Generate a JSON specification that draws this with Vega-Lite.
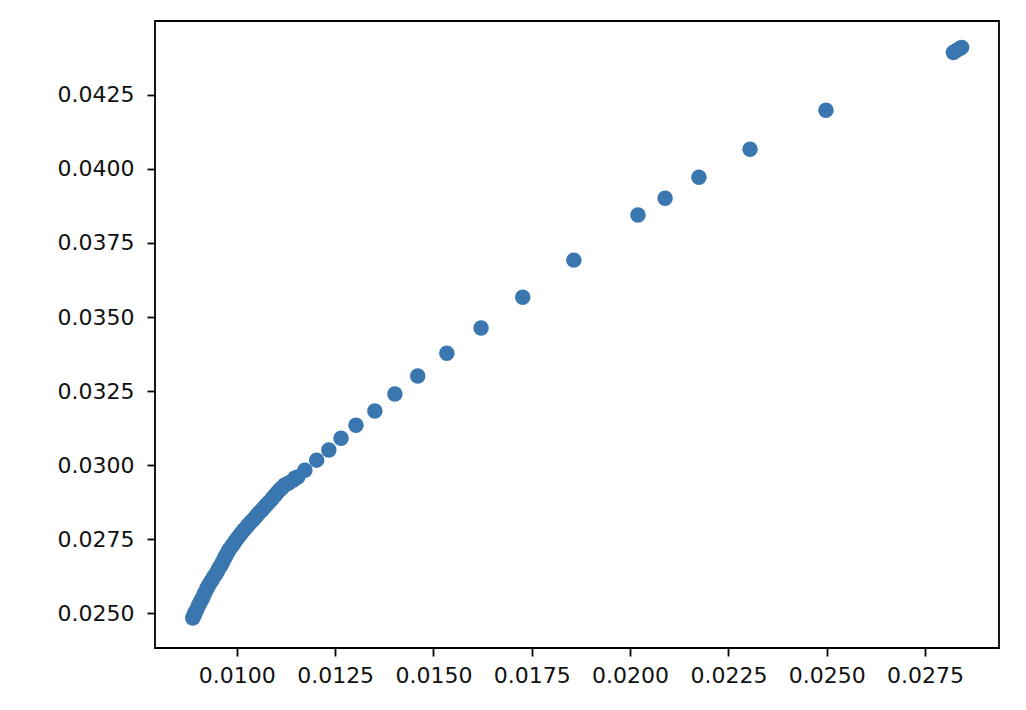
{
  "$schema": "https://vega.github.io/schema/vega-lite/v6.json",
  "width": 844,
  "height": 627,
  "autosize": "none",
  "padding": {"left": 155, "top": 21, "right": 27, "bottom": 62},
  "background": "white",
  "config": {
    "view": {"stroke": "black", "strokeWidth": 1.8},
    "axis": {
      "grid": false,
      "domain": false,
      "tickColor": "black",
      "tickWidth": 1.8,
      "tickSize": 8,
      "labelFont": "DejaVu Sans",
      "labelFontSize": 22,
      "labelColor": "#111111",
      "labelFlush": false,
      "labelOverlap": false,
      "title": null
    }
  },
  "data": {
    "values": [
      {"x": 0.02498, "y": 0.04198},
      {"x": 0.02305, "y": 0.04066},
      {"x": 0.02175, "y": 0.03972},
      {"x": 0.02089, "y": 0.03901},
      {"x": 0.02020, "y": 0.03844},
      {"x": 0.01857, "y": 0.03692},
      {"x": 0.01727, "y": 0.03567},
      {"x": 0.01621, "y": 0.03463},
      {"x": 0.01534, "y": 0.03378},
      {"x": 0.01460, "y": 0.03301},
      {"x": 0.01402, "y": 0.03240},
      {"x": 0.01351, "y": 0.03183},
      {"x": 0.01303, "y": 0.03135},
      {"x": 0.01265, "y": 0.03091},
      {"x": 0.01234, "y": 0.03051},
      {"x": 0.01203, "y": 0.03017},
      {"x": 0.01173, "y": 0.02983},
      {"x": 0.01148, "y": 0.02957},
      {"x": 0.01122, "y": 0.02933},
      {"x": 0.02822, "y": 0.04393},
      {"x": 0.02829, "y": 0.04399},
      {"x": 0.02837, "y": 0.04405},
      {"x": 0.02843, "y": 0.04410},
      {"x": 0.01155, "y": 0.02960},
      {"x": 0.01144, "y": 0.02950},
      {"x": 0.01132, "y": 0.02940},
      {"x": 0.01109, "y": 0.02916},
      {"x": 0.01098, "y": 0.02899},
      {"x": 0.01087, "y": 0.02882},
      {"x": 0.01075, "y": 0.02866},
      {"x": 0.01064, "y": 0.02849},
      {"x": 0.01052, "y": 0.02832},
      {"x": 0.01041, "y": 0.02815},
      {"x": 0.01029, "y": 0.02798},
      {"x": 0.01018, "y": 0.02781},
      {"x": 0.01008, "y": 0.02764},
      {"x": 0.00998, "y": 0.02747},
      {"x": 0.00989, "y": 0.02730},
      {"x": 0.00980, "y": 0.02714},
      {"x": 0.00972, "y": 0.02694},
      {"x": 0.00964, "y": 0.02673},
      {"x": 0.00955, "y": 0.02653},
      {"x": 0.00947, "y": 0.02633},
      {"x": 0.00938, "y": 0.02614},
      {"x": 0.00929, "y": 0.02596},
      {"x": 0.00921, "y": 0.02575},
      {"x": 0.00914, "y": 0.02555},
      {"x": 0.00907, "y": 0.02538},
      {"x": 0.00901, "y": 0.02521},
      {"x": 0.00894, "y": 0.02503},
      {"x": 0.00888, "y": 0.02484},
      {"x": 0.00890, "y": 0.02490},
      {"x": 0.00893, "y": 0.02498},
      {"x": 0.00897, "y": 0.02510},
      {"x": 0.00904, "y": 0.02530},
      {"x": 0.00911, "y": 0.02547},
      {"x": 0.00917, "y": 0.02565},
      {"x": 0.00925, "y": 0.02586},
      {"x": 0.00933, "y": 0.02605},
      {"x": 0.00942, "y": 0.02624},
      {"x": 0.00951, "y": 0.02643},
      {"x": 0.00960, "y": 0.02663},
      {"x": 0.00968, "y": 0.02684},
      {"x": 0.00976, "y": 0.02704},
      {"x": 0.00985, "y": 0.02722},
      {"x": 0.00994, "y": 0.02739},
      {"x": 0.01003, "y": 0.02756},
      {"x": 0.01013, "y": 0.02773},
      {"x": 0.01024, "y": 0.02790},
      {"x": 0.01035, "y": 0.02807},
      {"x": 0.01047, "y": 0.02824},
      {"x": 0.01058, "y": 0.02841},
      {"x": 0.01070, "y": 0.02858},
      {"x": 0.01081, "y": 0.02874},
      {"x": 0.01092, "y": 0.02891},
      {"x": 0.01103, "y": 0.02908},
      {"x": 0.01115, "y": 0.02924}
    ]
  },
  "mark": {"type": "point", "filled": true, "size": 240, "color": "#3a76af", "opacity": 1, "strokeWidth": 0},
  "encoding": {
    "x": {
      "field": "x",
      "type": "quantitative",
      "scale": {"domain": [0.00792, 0.02938], "nice": false, "zero": false},
      "axis": {
        "values": [0.01, 0.0125, 0.015, 0.0175, 0.02, 0.0225, 0.025, 0.0275],
        "format": ".4f",
        "labelPadding": 9
      }
    },
    "y": {
      "field": "y",
      "type": "quantitative",
      "scale": {"domain": [0.02383, 0.04499], "nice": false, "zero": false},
      "axis": {
        "values": [0.025, 0.0275, 0.03, 0.0325, 0.035, 0.0375, 0.04, 0.0425],
        "format": ".4f",
        "labelPadding": 13
      }
    }
  }
}
